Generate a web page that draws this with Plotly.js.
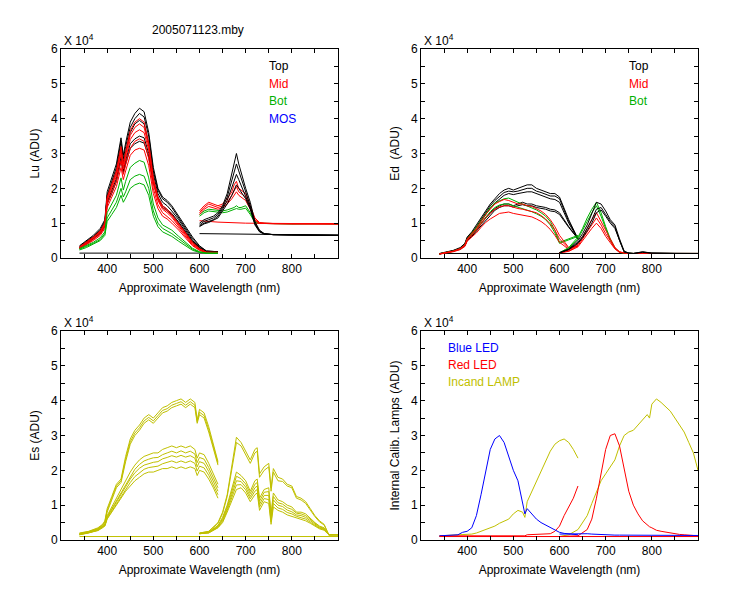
<!DOCTYPE html>
<html><head><meta charset="utf-8">
<script src="https://cdn.plot.ly/plotly-3.0.1.min.js"></script>
<style>body{margin:0;background:#fff}#plot{width:750px;height:600px}</style>
</head><body><div id="plot"></div>
<script>
// ---------- Lu (units of 1e4 ADU) ----------
const LU_X1 = [340,355,370,385,395,400,410,420,430,435,440,450,460,470,480,490,500,510,520,530,540,555,570,585,600,615,640];
const LU_TOP1 = [
 [0.35,0.5,0.65,0.85,1.1,1.9,2.3,2.7,3.45,2.95,3.3,3.9,4.15,4.3,4.2,3.6,2.6,2.0,1.75,1.65,1.5,1.2,0.9,0.6,0.35,0.2,0.18],
 [0.33,0.48,0.62,0.8,1.05,1.8,2.2,2.6,3.35,2.85,3.2,3.75,4.0,4.15,4.05,3.5,2.5,1.95,1.7,1.6,1.45,1.15,0.85,0.55,0.33,0.2,0.18],
 [0.3,0.45,0.6,0.78,1.0,1.75,2.1,2.5,3.2,2.75,3.05,3.6,3.85,3.95,3.85,3.3,2.4,1.85,1.6,1.5,1.35,1.1,0.8,0.5,0.3,0.18,0.17],
 [0.29,0.42,0.57,0.73,0.93,1.6,1.92,2.28,2.9,2.5,2.8,3.28,3.42,3.5,3.45,3.0,2.22,1.75,1.5,1.4,1.28,1.03,0.75,0.47,0.29,0.17,0.16],
 [0.28,0.4,0.55,0.7,0.9,1.55,1.85,2.2,2.8,2.45,2.7,3.15,3.28,3.35,3.3,2.9,2.15,1.7,1.45,1.35,1.25,1.0,0.72,0.45,0.28,0.17,0.16]
];
const LU_MID1 = [
 [0.32,0.45,0.6,0.78,1.0,1.75,2.1,2.5,3.2,2.7,3.05,3.65,3.9,4.0,3.9,3.3,2.3,1.75,1.5,1.4,1.25,1.0,0.72,0.45,0.27,0.17,0.16],
 [0.3,0.43,0.58,0.75,0.97,1.7,2.05,2.42,3.1,2.62,2.95,3.52,3.75,3.85,3.75,3.2,2.22,1.7,1.45,1.35,1.21,0.96,0.69,0.43,0.26,0.16,0.16],
 [0.3,0.42,0.56,0.73,0.95,1.65,2.0,2.35,3.0,2.55,2.85,3.4,3.6,3.68,3.6,3.1,2.15,1.65,1.4,1.3,1.17,0.92,0.66,0.4,0.25,0.16,0.16],
 [0.28,0.4,0.53,0.69,0.9,1.55,1.87,2.2,2.8,2.4,2.67,3.15,3.35,3.42,3.35,2.85,2.0,1.53,1.3,1.2,1.08,0.86,0.61,0.37,0.23,0.15,0.15],
 [0.27,0.38,0.5,0.65,0.85,1.45,1.75,2.05,2.6,2.25,2.5,2.95,3.1,3.15,3.1,2.65,1.85,1.42,1.2,1.12,1.0,0.8,0.57,0.35,0.22,0.15,0.15]
];
const LU_BOT1 = [
 [0.27,0.35,0.45,0.58,0.75,1.3,1.55,1.8,2.3,1.95,2.2,2.6,2.72,2.8,2.75,2.3,1.55,1.15,0.95,0.88,0.8,0.62,0.45,0.28,0.18,0.14,0.14],
 [0.25,0.33,0.42,0.53,0.7,1.15,1.38,1.6,2.0,1.75,1.9,2.25,2.35,2.4,2.35,2.0,1.35,1.0,0.85,0.78,0.7,0.55,0.4,0.25,0.17,0.14,0.14],
 [0.23,0.3,0.4,0.5,0.65,1.05,1.25,1.45,1.8,1.6,1.72,2.0,2.1,2.15,2.1,1.8,1.2,0.9,0.75,0.68,0.62,0.48,0.35,0.22,0.16,0.13,0.13]
];
const LU_DARK1_X = [340,640];
const LU_DARK1_Y = [0.14,0.14];
const LU_X2 = [600,610,620,630,640,650,660,670,675,680,685,690,700,710,720,730,740,760,800,850,900];
const LU_TOP2 = [
 [1.0,1.1,1.15,1.2,1.3,1.5,1.85,2.4,2.7,3.0,2.7,2.45,2.0,1.6,1.05,0.8,0.7,0.67,0.66,0.65,0.65],
 [0.95,1.05,1.1,1.15,1.25,1.45,1.75,2.2,2.45,2.7,2.5,2.3,1.9,1.5,1.0,0.78,0.7,0.67,0.66,0.65,0.65],
 [0.92,1.0,1.05,1.1,1.2,1.4,1.65,2.0,2.2,2.4,2.25,2.1,1.8,1.45,0.98,0.76,0.69,0.67,0.66,0.65,0.65],
 [0.9,0.98,1.02,1.08,1.15,1.35,1.55,1.8,1.95,2.1,2.0,1.9,1.7,1.4,0.95,0.75,0.69,0.67,0.66,0.65,0.65]
];
const LU_MID2 = [
 [1.35,1.5,1.6,1.55,1.5,1.55,1.7,1.9,2.1,2.2,2.0,1.95,1.85,1.5,1.15,1.02,1.0,0.99,0.99,0.99,0.98],
 [1.3,1.45,1.55,1.5,1.45,1.5,1.6,1.8,1.95,2.05,1.9,1.85,1.75,1.45,1.1,1.0,0.99,0.99,0.98,0.99,0.98],
 [1.25,1.4,1.48,1.45,1.4,1.45,1.55,1.7,1.8,1.9,1.8,1.75,1.65,1.4,1.08,1.0,0.99,0.98,0.98,0.99,0.98]
];
const LU_BOT2 = [
 [1.25,1.35,1.4,1.38,1.35,1.35,1.38,1.42,1.45,1.5,1.45,1.45,1.5,1.3,1.05,1.0,0.99,0.99,0.98,0.99,0.98],
 [1.2,1.3,1.35,1.33,1.3,1.3,1.32,1.36,1.38,1.42,1.4,1.4,1.43,1.25,1.02,0.99,0.99,0.98,0.98,0.99,0.98]
];
const LU_FLAT2_X = [600,640,700,800,900];
const LU_FLAT_RED = [1.07,1.03,1.0,0.99,0.98];
const LU_FLAT_BLK = [0.7,0.69,0.68,0.67,0.66];

// ---------- Ed ----------
const ED_X1 = [340,355,370,385,395,400,410,420,430,440,450,460,470,480,490,500,510,520,530,540,550,560,570,580,590,600,620,640];
const ED_TOP1 = [
 [0.13,0.17,0.22,0.3,0.42,0.6,0.75,0.95,1.15,1.35,1.55,1.7,1.85,1.95,2.0,1.95,2.0,2.05,2.1,2.1,2.0,1.95,1.9,1.85,1.85,1.75,1.1,0.55],
 [0.12,0.16,0.21,0.28,0.4,0.58,0.72,0.9,1.1,1.3,1.5,1.65,1.78,1.88,1.92,1.9,1.92,1.95,2.0,2.0,1.92,1.88,1.82,1.78,1.78,1.7,1.05,0.55],
 [0.12,0.16,0.2,0.27,0.38,0.55,0.7,0.87,1.05,1.25,1.43,1.58,1.7,1.8,1.85,1.82,1.85,1.88,1.9,1.9,1.85,1.8,1.75,1.7,1.68,1.6,1.0,0.55],
 [0.12,0.15,0.2,0.26,0.36,0.52,0.65,0.8,0.98,1.15,1.3,1.42,1.5,1.55,1.55,1.5,1.55,1.6,1.55,1.55,1.5,1.48,1.45,1.4,1.38,1.3,0.9,0.55],
 [0.11,0.15,0.19,0.25,0.35,0.5,0.62,0.77,0.94,1.1,1.25,1.37,1.45,1.5,1.5,1.46,1.5,1.53,1.5,1.5,1.45,1.43,1.4,1.35,1.33,1.25,0.88,0.55]
];
const ED_MID1 = [
 [0.12,0.15,0.2,0.27,0.38,0.55,0.7,0.85,1.05,1.25,1.4,1.55,1.62,1.68,1.65,1.6,1.55,1.55,1.5,1.48,1.42,1.35,1.25,1.1,0.9,0.65,0.3,0.35],
 [0.12,0.15,0.19,0.26,0.36,0.52,0.66,0.8,0.98,1.15,1.28,1.4,1.47,1.5,1.5,1.45,1.42,1.4,1.37,1.35,1.3,1.22,1.12,0.98,0.8,0.55,0.28,0.35],
 [0.11,0.14,0.18,0.24,0.33,0.48,0.6,0.72,0.88,1.02,1.12,1.2,1.28,1.3,1.32,1.28,1.25,1.22,1.2,1.18,1.12,1.05,0.95,0.82,0.65,0.45,0.25,0.35]
];
const ED_BOT1 = [
 [0.12,0.15,0.2,0.27,0.38,0.55,0.7,0.88,1.08,1.28,1.45,1.58,1.65,1.7,1.72,1.65,1.6,1.55,1.5,1.45,1.38,1.3,1.2,1.05,0.8,0.45,0.55,0.65],
 [0.12,0.15,0.19,0.26,0.36,0.52,0.66,0.82,1.0,1.18,1.33,1.45,1.52,1.55,1.55,1.5,1.46,1.42,1.38,1.33,1.27,1.2,1.1,0.95,0.72,0.42,0.52,0.62]
];
const ED_X2 = [600,620,640,650,660,670,680,690,700,710,720,730,740,750,760,780,800,850,900];
const ED_TOP2 = [
 [0.15,0.25,0.5,0.7,0.95,1.25,1.6,1.55,1.35,1.1,0.95,0.55,0.2,0.14,0.13,0.18,0.14,0.13,0.13],
 [0.15,0.25,0.45,0.62,0.85,1.1,1.4,1.45,1.25,1.05,0.9,0.5,0.18,0.14,0.13,0.17,0.14,0.13,0.13],
 [0.15,0.24,0.42,0.58,0.78,1.0,1.3,1.38,1.2,1.0,0.85,0.48,0.17,0.14,0.13,0.16,0.14,0.13,0.13]
];
const ED_MID2 = [
 [0.15,0.22,0.4,0.6,0.85,1.1,1.3,1.05,0.8,0.55,0.3,0.18,0.14,0.13,0.13,0.13,0.13,0.13,0.13],
 [0.15,0.2,0.35,0.55,0.75,0.95,1.15,0.95,0.7,0.5,0.28,0.17,0.14,0.13,0.13,0.13,0.13,0.13,0.13],
 [0.15,0.19,0.32,0.5,0.68,0.85,1.0,0.85,0.62,0.45,0.26,0.16,0.14,0.13,0.13,0.13,0.13,0.13,0.13]
];
const ED_BOT2 = [
 [0.15,0.3,0.6,0.85,1.15,1.4,1.6,1.3,0.9,0.55,0.3,0.17,0.14,0.13,0.13,0.13,0.13,0.13,0.13],
 [0.15,0.28,0.55,0.78,1.05,1.3,1.5,1.2,0.85,0.5,0.28,0.16,0.14,0.13,0.13,0.13,0.13,0.13,0.13]
];
const ED_FLAT_X = [340,900];
const ED_FLAT_Y = [0.13,0.13];

// ---------- Es ----------
const ES_X1 = [340,360,380,390,395,400,410,420,430,440,450,460,470,480,490,500,510,520,530,540,550,560,570,580,590,595,600,610,620,630,640];
const ES_1 = [
 [0.2,0.25,0.35,0.45,0.55,0.9,1.25,1.6,1.75,2.4,2.9,3.15,3.3,3.5,3.6,3.5,3.65,3.8,3.85,3.95,4.0,4.05,3.95,4.05,3.95,3.45,3.75,3.65,3.25,2.75,2.25],
 [0.19,0.24,0.33,0.43,0.52,0.85,1.2,1.55,1.7,2.32,2.82,3.07,3.22,3.42,3.52,3.42,3.57,3.72,3.77,3.87,3.92,3.97,3.87,3.97,3.87,3.4,3.67,3.57,3.17,2.67,2.2],
 [0.18,0.23,0.32,0.42,0.5,0.8,1.15,1.5,1.65,2.25,2.75,3.0,3.15,3.35,3.45,3.35,3.5,3.65,3.7,3.8,3.85,3.9,3.8,3.9,3.8,3.35,3.6,3.5,3.1,2.6,2.15],
 [0.17,0.22,0.3,0.4,0.45,0.7,0.95,1.2,1.45,1.7,1.95,2.15,2.3,2.4,2.45,2.5,2.5,2.6,2.65,2.7,2.65,2.7,2.65,2.7,2.6,2.35,2.5,2.45,2.2,1.9,1.6],
 [0.16,0.21,0.29,0.38,0.43,0.67,0.9,1.14,1.37,1.6,1.84,2.03,2.17,2.27,2.32,2.36,2.37,2.45,2.5,2.55,2.5,2.56,2.5,2.55,2.47,2.22,2.37,2.32,2.08,1.8,1.5],
 [0.16,0.21,0.28,0.37,0.42,0.65,0.87,1.1,1.32,1.53,1.75,1.93,2.06,2.15,2.2,2.23,2.25,2.33,2.37,2.42,2.38,2.43,2.38,2.42,2.35,2.1,2.25,2.2,1.97,1.7,1.4],
 [0.15,0.2,0.28,0.36,0.41,0.62,0.83,1.05,1.26,1.47,1.65,1.82,1.93,2.03,2.08,2.1,2.12,2.19,2.22,2.27,2.22,2.27,2.22,2.27,2.2,1.98,2.12,2.07,1.86,1.6,1.3],
 [0.15,0.2,0.27,0.35,0.4,0.6,0.8,1.0,1.2,1.4,1.55,1.7,1.8,1.9,1.95,1.95,2.0,2.05,2.05,2.1,2.05,2.1,2.05,2.1,2.05,1.85,2.0,1.95,1.75,1.5,1.2]
];
const ES_X2 = [600,620,640,650,660,670,680,690,700,710,720,725,730,740,750,755,760,770,780,790,800,810,820,830,840,850,860,870,880,890,900];
const ES_2 = [
 [0.2,0.25,0.5,0.8,1.3,2.1,2.95,2.8,2.55,2.3,2.6,2.65,1.9,2.1,2.2,1.5,2.05,1.8,1.75,1.6,1.55,1.25,1.2,1.1,0.9,0.7,0.55,0.45,0.15,0.15,0.15],
 [0.2,0.24,0.48,0.76,1.25,2.0,2.8,2.7,2.45,2.2,2.5,2.55,1.8,2.0,2.1,1.4,1.95,1.7,1.68,1.55,1.5,1.2,1.15,1.05,0.86,0.67,0.52,0.43,0.15,0.15,0.15],
 [0.19,0.23,0.42,0.65,1.0,1.5,1.95,1.85,1.7,1.4,1.7,1.75,1.2,1.45,1.5,0.75,1.35,1.15,1.1,1.0,0.95,0.8,0.8,0.75,0.62,0.5,0.4,0.35,0.15,0.15,0.15],
 [0.19,0.22,0.4,0.61,0.95,1.41,1.83,1.76,1.61,1.33,1.6,1.65,1.11,1.37,1.39,0.68,1.25,1.07,1.03,0.93,0.88,0.77,0.75,0.7,0.59,0.47,0.38,0.33,0.15,0.15,0.15],
 [0.18,0.21,0.38,0.57,0.9,1.33,1.7,1.68,1.52,1.25,1.5,1.55,1.02,1.28,1.28,0.6,1.15,1.0,0.96,0.86,0.81,0.72,0.7,0.65,0.55,0.45,0.36,0.31,0.15,0.15,0.15],
 [0.18,0.21,0.36,0.53,0.85,1.24,1.58,1.59,1.44,1.18,1.4,1.45,0.94,1.19,1.16,0.52,1.05,0.92,0.88,0.79,0.75,0.68,0.65,0.6,0.51,0.42,0.34,0.3,0.15,0.15,0.15],
 [0.18,0.2,0.35,0.5,0.8,1.15,1.45,1.5,1.35,1.1,1.3,1.35,0.85,1.1,1.05,0.45,0.95,0.85,0.8,0.72,0.68,0.65,0.6,0.55,0.48,0.4,0.32,0.28,0.15,0.15,0.15]
];
const ES_FLAT_X = [340,900];
const ES_FLAT_Y = [0.1,0.1];

// ---------- Internal calibration lamps ----------
const CAL_X1 = [340,380,390,400,410,420,430,440,450,460,470,480,490,500,510,520,525,530,540,550,560,580,590,600,610,620,630,640];
const BLUE_1 = [0.12,0.15,0.22,0.25,0.35,0.7,1.3,2.0,2.6,2.9,3.0,2.8,2.4,2.0,1.7,1.1,0.75,0.9,0.75,0.6,0.5,0.35,0.28,0.22,0.19,0.17,0.16,0.15];
const RED_1 = [0.12,0.12,0.12,0.12,0.12,0.12,0.12,0.12,0.12,0.12,0.12,0.12,0.12,0.12,0.12,0.12,0.12,0.15,0.16,0.16,0.16,0.18,0.25,0.4,0.7,0.95,1.2,1.55];
const LAMP_1 = [0.12,0.14,0.15,0.15,0.17,0.2,0.25,0.3,0.35,0.4,0.48,0.55,0.6,0.75,0.85,0.8,0.65,1.1,1.4,1.65,2.0,2.55,2.75,2.85,2.9,2.8,2.6,2.35];
const CAL_X2 = [600,620,640,660,670,680,690,700,710,720,730,740,750,760,770,780,790,795,800,810,820,840,860,870,880,890,900];
const BLUE_2 = [0.17,0.18,0.18,0.18,0.17,0.16,0.15,0.15,0.14,0.14,0.14,0.14,0.14,0.14,0.14,0.14,0.13,0.13,0.13,0.13,0.13,0.13,0.13,0.13,0.13,0.13,0.13];
const RED_2 = [0.1,0.11,0.12,0.3,0.6,1.2,1.9,2.6,3.0,3.05,2.7,2.0,1.4,1.0,0.75,0.55,0.42,0.38,0.35,0.28,0.25,0.2,0.16,0.15,0.15,0.13,0.12];
const LAMP_2 = [0.1,0.15,0.3,0.7,1.05,1.4,1.7,1.9,2.1,2.3,2.7,3.0,3.1,3.15,3.3,3.45,3.6,3.5,3.9,4.05,3.95,3.7,3.3,3.1,2.8,2.5,2.0];
const CAL_FLAT_X = [340,900];
const CAL_FLAT_Y = [0.1,0.1];

const C_BLACK = '#000000', C_RED = '#ff0000', C_GREEN = '#00b000', C_BLUE = '#0000ff', C_YEL = '#c0c000';

const traces = [];
function add(x, y, color, ax) {
  traces.push({x: x, y: y, type: 'scatter', mode: 'lines', line: {color: color, width: 1},
    xaxis: 'x' + (ax === 1 ? '' : ax), yaxis: 'y' + (ax === 1 ? '' : ax), hoverinfo: 'skip', showlegend: false});
}
// Lu
add(LU_DARK1_X, LU_DARK1_Y, C_BLACK, 1);
LU_TOP1.forEach(y => add(LU_X1, y, C_BLACK, 1));
LU_MID1.forEach(y => add(LU_X1, y, C_RED, 1));
LU_BOT1.forEach(y => add(LU_X1, y, C_GREEN, 1));
add(LU_FLAT2_X, LU_FLAT_BLK, C_BLACK, 1);
LU_BOT2.forEach(y => add(LU_X2, y, C_GREEN, 1));
LU_MID2.forEach(y => add(LU_X2, y, C_RED, 1));
add(LU_FLAT2_X, LU_FLAT_RED, C_RED, 1);
LU_TOP2.forEach(y => add(LU_X2, y, C_BLACK, 1));
// Ed
add(ED_FLAT_X, ED_FLAT_Y, C_BLACK, 2);
ED_TOP1.forEach(y => add(ED_X1, y, C_BLACK, 2));
ED_BOT1.forEach(y => add(ED_X1, y, C_GREEN, 2));
ED_MID1.forEach(y => add(ED_X1, y, C_RED, 2));
ED_BOT2.forEach(y => add(ED_X2, y, C_GREEN, 2));
ED_MID2.forEach(y => add(ED_X2, y, C_RED, 2));
ED_TOP2.forEach(y => add(ED_X2, y, C_BLACK, 2));
// Es
add(ES_FLAT_X, ES_FLAT_Y, C_YEL, 3);
ES_1.forEach(y => add(ES_X1, y, C_YEL, 3));
ES_2.forEach(y => add(ES_X2, y, C_YEL, 3));
// Cal
add(CAL_FLAT_X, CAL_FLAT_Y, C_BLUE, 4);
add(CAL_X1, LAMP_1, C_YEL, 4);
add(CAL_X2, LAMP_2, C_YEL, 4);
add(CAL_X1, RED_1, C_RED, 4);
add(CAL_X2, RED_2, C_RED, 4);
add(CAL_X1, BLUE_1, C_BLUE, 4);
add(CAL_X2, BLUE_2, C_BLUE, 4);
add(CAL_FLAT_X, CAL_FLAT_Y, C_RED, 4);

const FONT = {family: 'Liberation Sans, Arial, sans-serif', size: 12, color: '#000'};
function xax(dom, anchor) {
  return {domain: dom, anchor: anchor, range: [300, 900], tickvals: [400,500,600,700,800],
    ticks: 'inside', ticklen: 4, tickcolor: '#000', mirror: 'ticks', showline: true, linecolor: '#000', linewidth: 1,
    showgrid: false, zeroline: false, tickfont: FONT,
    minor: {dtick: 50, tick0: 0, ticks: 'inside', ticklen: 4, tickcolor: '#000', showgrid: false},
    title: {text: 'Approximate Wavelength (nm)', font: FONT, standoff: 8}};
}
function yax(dom, anchor, t) {
  return {domain: dom, anchor: anchor, range: [0, 6], tickvals: [0,1,2,3,4,5,6],
    ticks: 'inside', ticklen: 4, tickcolor: '#000', mirror: 'ticks', showline: true, linecolor: '#000', linewidth: 1,
    showgrid: false, zeroline: false, tickfont: FONT,
    minor: {dtick: 0.5, tick0: 0, ticks: 'inside', ticklen: 4, tickcolor: '#000', showgrid: false},
    title: {text: t, font: FONT, standoff: 8}};
}
const XL = [61/750, 338/750], XR = [421/750, 698/750];
const YT = [1 - 258/600, 1 - 49/600], YB = [1 - 540/600, 1 - 331/600];

const ann = [];
function note(x, y, text, color, xa, ya) {
  ann.push({x: x, y: y, xref: 'paper', yref: 'paper', text: text, showarrow: false,
    xanchor: xa || 'left', yanchor: ya || 'middle', font: Object.assign({}, FONT, {color: color})});
}
note(198/750, 1 - 30/600, '2005071123.mby', '#000', 'center');
[[62,40],[422,40],[62,322],[422,322]].forEach(p => note(p[0]/750, 1 - p[1]/600, 'X 10<sup>4</sup>', '#000'));
note(267/750, 1 - 66/600, 'Top', C_BLACK);
note(267/750, 1 - 84/600, 'Mid', C_RED);
note(267/750, 1 - 101/600, 'Bot', C_GREEN);
note(267/750, 1 - 119/600, 'MOS', C_BLUE);
note(627/750, 1 - 66/600, 'Top', C_BLACK);
note(627/750, 1 - 84/600, 'Mid', C_RED);
note(627/750, 1 - 101/600, 'Bot', C_GREEN);
note(446/750, 1 - 348/600, 'Blue LED', C_BLUE);
note(446/750, 1 - 365/600, 'Red LED', C_RED);
note(446/750, 1 - 382/600, 'Incand LAMP', C_YEL);

const layout = {
  width: 750, height: 600, margin: {l: 0, r: 0, t: 0, b: 0},
  paper_bgcolor: '#fff', plot_bgcolor: '#fff', font: FONT, showlegend: false,
  xaxis: xax(XL, 'y'), yaxis: yax(YT, 'x', 'Lu (ADU)'),
  xaxis2: xax(XR, 'y2'), yaxis2: yax(YT, 'x2', 'Ed  (ADU)'),
  xaxis3: xax(XL, 'y3'), yaxis3: yax(YB, 'x3', 'Es (ADU)'),
  xaxis4: xax(XR, 'y4'), yaxis4: yax(YB, 'x4', 'Internal Calib. Lamps (ADU)'),
  annotations: ann
};
Plotly.newPlot('plot', traces, layout, {staticPlot: true, displayModeBar: false});
</script></body></html>
